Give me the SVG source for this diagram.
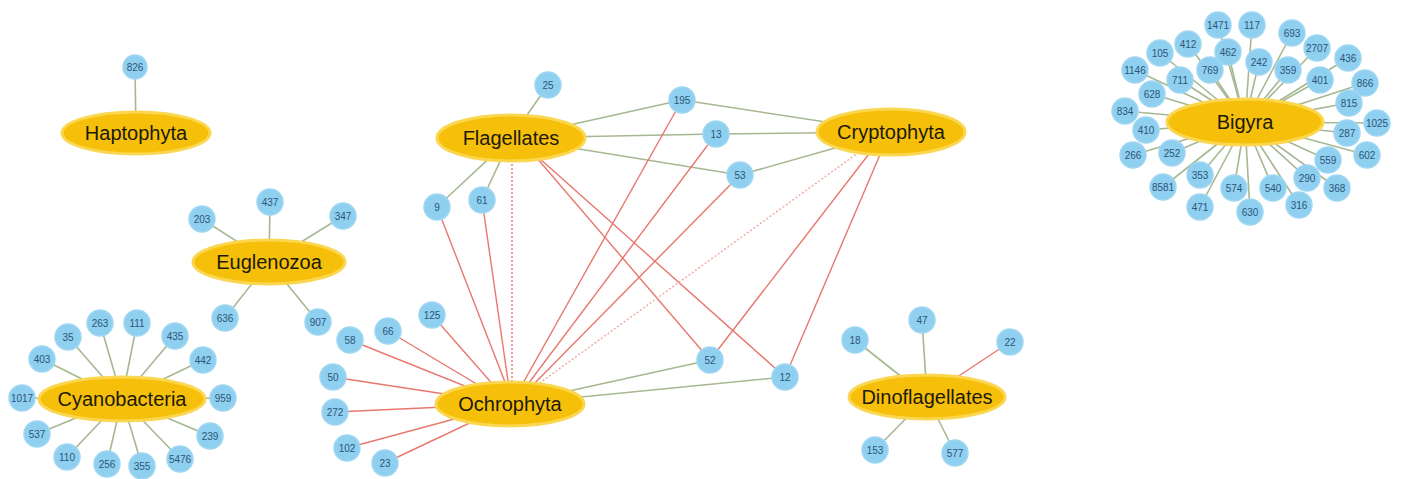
<svg xmlns="http://www.w3.org/2000/svg" width="1403" height="479" viewBox="0 0 1403 479">
<style>
.g{stroke:#a6b892;stroke-width:1.6;fill:none}
.r{stroke:#e8776e;stroke-width:1.4;fill:none}
.d{stroke-dasharray:2,2}
.l{stroke:#f0a8a0}
.n circle{fill:#8fd0f0;stroke:#9fd6f2;stroke-width:1.5}
.n text{font-family:"Liberation Sans",Arial,sans-serif;font-size:10px;fill:#2c5577;text-anchor:middle}
.h ellipse{fill:#f6bf0a;stroke:#fbd651;stroke-width:3}
.h text{font-family:"Liberation Sans",Arial,sans-serif;font-size:20px;fill:#1c1a08;text-anchor:middle}
</style>
<rect width="1403" height="479" fill="#ffffff"/>
<g id="connectors">
<line class="g" x1="136" y1="133" x2="135" y2="67"/>
<line class="g" x1="269" y1="262" x2="202" y2="219"/>
<line class="g" x1="269" y1="262" x2="270" y2="202"/>
<line class="g" x1="269" y1="262" x2="343" y2="216"/>
<line class="g" x1="269" y1="262" x2="225" y2="318"/>
<line class="g" x1="269" y1="262" x2="318" y2="322"/>
<line class="g" x1="122" y1="399" x2="68" y2="337"/>
<line class="g" x1="122" y1="399" x2="100" y2="323"/>
<line class="g" x1="122" y1="399" x2="137" y2="323"/>
<line class="g" x1="122" y1="399" x2="175" y2="336"/>
<line class="g" x1="122" y1="399" x2="203" y2="360"/>
<line class="g" x1="122" y1="399" x2="223" y2="398"/>
<line class="g" x1="122" y1="399" x2="210" y2="436"/>
<line class="g" x1="122" y1="399" x2="180" y2="459"/>
<line class="g" x1="122" y1="399" x2="142" y2="466"/>
<line class="g" x1="122" y1="399" x2="107" y2="464"/>
<line class="g" x1="122" y1="399" x2="67" y2="457"/>
<line class="g" x1="122" y1="399" x2="37" y2="434"/>
<line class="g" x1="122" y1="399" x2="22" y2="398"/>
<line class="g" x1="122" y1="399" x2="42" y2="359"/>
<line class="g" x1="511" y1="138" x2="548" y2="85"/>
<line class="g" x1="511" y1="138" x2="682" y2="100"/>
<line class="g" x1="511" y1="138" x2="716" y2="134"/>
<line class="g" x1="511" y1="138" x2="740" y2="175"/>
<line class="g" x1="511" y1="138" x2="437" y2="207"/>
<line class="g" x1="511" y1="138" x2="482" y2="200"/>
<line class="r" x1="530" y1="150" x2="710" y2="360"/>
<line class="r" x1="530" y1="150" x2="785" y2="377"/>
<line class="r d" x1="512" y1="160" x2="512" y2="383"/>
<line class="g" x1="891" y1="132" x2="682" y2="100"/>
<line class="g" x1="891" y1="132" x2="716" y2="134"/>
<line class="g" x1="891" y1="132" x2="740" y2="175"/>
<line class="r" x1="872" y1="150" x2="710" y2="360"/>
<line class="r" x1="882" y1="150" x2="785" y2="377"/>
<line class="r d l" x1="862" y1="150" x2="530" y2="390"/>
<line class="g" x1="510" y1="404" x2="710" y2="360"/>
<line class="g" x1="510" y1="404" x2="785" y2="377"/>
<line class="r" x1="510" y1="395" x2="437" y2="207"/>
<line class="r" x1="510" y1="395" x2="482" y2="200"/>
<line class="r" x1="518" y1="392" x2="682" y2="100"/>
<line class="r" x1="522" y1="392" x2="716" y2="134"/>
<line class="r" x1="526" y1="392" x2="740" y2="175"/>
<line class="r" x1="510" y1="404" x2="432" y2="315"/>
<line class="r" x1="510" y1="404" x2="388" y2="331"/>
<line class="r" x1="510" y1="404" x2="350" y2="340"/>
<line class="r" x1="510" y1="404" x2="333" y2="377"/>
<line class="r" x1="510" y1="404" x2="335" y2="412"/>
<line class="r" x1="510" y1="404" x2="347" y2="448"/>
<line class="r" x1="510" y1="404" x2="385" y2="463"/>
<line class="g" x1="927" y1="397" x2="855" y2="340"/>
<line class="g" x1="927" y1="397" x2="922" y2="320"/>
<line class="r" x1="927" y1="397" x2="1010" y2="342"/>
<line class="g" x1="927" y1="397" x2="875" y2="450"/>
<line class="g" x1="927" y1="397" x2="955" y2="453"/>
<g class="g">
<line x1="1245" y1="122" x2="1218" y2="25"/>
<line x1="1245" y1="122" x2="1252" y2="25"/>
<line x1="1245" y1="122" x2="1292" y2="33"/>
<line x1="1245" y1="122" x2="1317" y2="48"/>
<line x1="1245" y1="122" x2="1348" y2="58"/>
<line x1="1245" y1="122" x2="1365" y2="83"/>
<line x1="1245" y1="122" x2="1349" y2="103"/>
<line x1="1245" y1="122" x2="1188" y2="44"/>
<line x1="1245" y1="122" x2="1160" y2="53"/>
<line x1="1245" y1="122" x2="1135" y2="70"/>
<line x1="1245" y1="122" x2="1228" y2="52"/>
<line x1="1245" y1="122" x2="1259" y2="62"/>
<line x1="1245" y1="122" x2="1180" y2="80"/>
<line x1="1245" y1="122" x2="1210" y2="70"/>
<line x1="1245" y1="122" x2="1288" y2="70"/>
<line x1="1245" y1="122" x2="1320" y2="80"/>
<line x1="1245" y1="122" x2="1152" y2="94"/>
<line x1="1245" y1="122" x2="1125" y2="111"/>
<line x1="1245" y1="122" x2="1146" y2="130"/>
<line x1="1245" y1="122" x2="1377" y2="123"/>
<line x1="1245" y1="122" x2="1347" y2="133"/>
<line x1="1245" y1="122" x2="1367" y2="155"/>
<line x1="1245" y1="122" x2="1328" y2="160"/>
<line x1="1245" y1="122" x2="1133" y2="155"/>
<line x1="1245" y1="122" x2="1172" y2="153"/>
<line x1="1245" y1="122" x2="1200" y2="175"/>
<line x1="1245" y1="122" x2="1163" y2="187"/>
<line x1="1245" y1="122" x2="1234" y2="188"/>
<line x1="1245" y1="122" x2="1273" y2="188"/>
<line x1="1245" y1="122" x2="1307" y2="178"/>
<line x1="1245" y1="122" x2="1337" y2="188"/>
<line x1="1245" y1="122" x2="1200" y2="207"/>
<line x1="1245" y1="122" x2="1250" y2="212"/>
<line x1="1245" y1="122" x2="1299" y2="205"/>
</g>
</g>
<g id="Haptophyta" class="h"><ellipse cx="136" cy="133" rx="74" ry="21"/><text x="136" y="140">Haptophyta</text></g>
<g id="Euglenozoa" class="h"><ellipse cx="269" cy="262" rx="76" ry="22"/><text x="269" y="269">Euglenozoa</text></g>
<g id="Cyanobacteria" class="h"><ellipse cx="122" cy="399" rx="83" ry="22"/><text x="122" y="406">Cyanobacteria</text></g>
<g id="Flagellates" class="h"><ellipse cx="511" cy="138" rx="74" ry="23"/><text x="511" y="145">Flagellates</text></g>
<g id="Cryptophyta" class="h"><ellipse cx="891" cy="132" rx="74" ry="23"/><text x="891" y="139">Cryptophyta</text></g>
<g id="Ochrophyta" class="h"><ellipse cx="510" cy="404" rx="74" ry="22"/><text x="510" y="411">Ochrophyta</text></g>
<g id="Dinoflagellates" class="h"><ellipse cx="927" cy="397" rx="78" ry="22"/><text x="927" y="404">Dinoflagellates</text></g>
<g id="Bigyra" class="h"><ellipse cx="1245" cy="122" rx="78" ry="23"/><text x="1245" y="129">Bigyra</text></g>
<g id="n826" class="n"><circle cx="135" cy="67" r="12"/><text x="135" y="71">826</text></g>
<g id="n203" class="n"><circle cx="202" cy="219" r="13"/><text x="202" y="223">203</text></g>
<g id="n437" class="n"><circle cx="270" cy="202" r="13"/><text x="270" y="206">437</text></g>
<g id="n347" class="n"><circle cx="343" cy="216" r="13"/><text x="343" y="220">347</text></g>
<g id="n636" class="n"><circle cx="225" cy="318" r="13"/><text x="225" y="322">636</text></g>
<g id="n907" class="n"><circle cx="318" cy="322" r="13"/><text x="318" y="326">907</text></g>
<g id="n35" class="n"><circle cx="68" cy="337" r="13"/><text x="68" y="341">35</text></g>
<g id="n263" class="n"><circle cx="100" cy="323" r="13"/><text x="100" y="327">263</text></g>
<g id="n111" class="n"><circle cx="137" cy="323" r="13"/><text x="137" y="327">111</text></g>
<g id="n435" class="n"><circle cx="175" cy="336" r="13"/><text x="175" y="340">435</text></g>
<g id="n442" class="n"><circle cx="203" cy="360" r="13"/><text x="203" y="364">442</text></g>
<g id="n959" class="n"><circle cx="223" cy="398" r="13"/><text x="223" y="402">959</text></g>
<g id="n239" class="n"><circle cx="210" cy="436" r="13"/><text x="210" y="440">239</text></g>
<g id="n5476" class="n"><circle cx="180" cy="459" r="13"/><text x="180" y="463">5476</text></g>
<g id="n355" class="n"><circle cx="142" cy="466" r="13"/><text x="142" y="470">355</text></g>
<g id="n256" class="n"><circle cx="107" cy="464" r="13"/><text x="107" y="468">256</text></g>
<g id="n110" class="n"><circle cx="67" cy="457" r="13"/><text x="67" y="461">110</text></g>
<g id="n537" class="n"><circle cx="37" cy="434" r="13"/><text x="37" y="438">537</text></g>
<g id="n1017" class="n"><circle cx="22" cy="398" r="13"/><text x="22" y="402">1017</text></g>
<g id="n403" class="n"><circle cx="42" cy="359" r="13"/><text x="42" y="363">403</text></g>
<g id="n25" class="n"><circle cx="548" cy="85" r="13"/><text x="548" y="89">25</text></g>
<g id="n195" class="n"><circle cx="682" cy="100" r="13"/><text x="682" y="104">195</text></g>
<g id="n13" class="n"><circle cx="716" cy="134" r="13"/><text x="716" y="138">13</text></g>
<g id="n53" class="n"><circle cx="740" cy="175" r="13"/><text x="740" y="179">53</text></g>
<g id="n9" class="n"><circle cx="437" cy="207" r="13"/><text x="437" y="211">9</text></g>
<g id="n61" class="n"><circle cx="482" cy="200" r="13"/><text x="482" y="204">61</text></g>
<g id="n52" class="n"><circle cx="710" cy="360" r="13"/><text x="710" y="364">52</text></g>
<g id="n12" class="n"><circle cx="785" cy="377" r="13"/><text x="785" y="381">12</text></g>
<g id="n125" class="n"><circle cx="432" cy="315" r="13"/><text x="432" y="319">125</text></g>
<g id="n66" class="n"><circle cx="388" cy="331" r="13"/><text x="388" y="335">66</text></g>
<g id="n58" class="n"><circle cx="350" cy="340" r="13"/><text x="350" y="344">58</text></g>
<g id="n50" class="n"><circle cx="333" cy="377" r="13"/><text x="333" y="381">50</text></g>
<g id="n272" class="n"><circle cx="335" cy="412" r="13"/><text x="335" y="416">272</text></g>
<g id="n102" class="n"><circle cx="347" cy="448" r="13"/><text x="347" y="452">102</text></g>
<g id="n23" class="n"><circle cx="385" cy="463" r="13"/><text x="385" y="467">23</text></g>
<g id="n18" class="n"><circle cx="855" cy="340" r="13"/><text x="855" y="344">18</text></g>
<g id="n47" class="n"><circle cx="922" cy="320" r="13"/><text x="922" y="324">47</text></g>
<g id="n22" class="n"><circle cx="1010" cy="342" r="13"/><text x="1010" y="346">22</text></g>
<g id="n153" class="n"><circle cx="875" cy="450" r="13"/><text x="875" y="454">153</text></g>
<g id="n577" class="n"><circle cx="955" cy="453" r="13"/><text x="955" y="457">577</text></g>
<g id="n1471" class="n"><circle cx="1218" cy="25" r="13"/><text x="1218" y="29">1471</text></g>
<g id="n117" class="n"><circle cx="1252" cy="25" r="13"/><text x="1252" y="29">117</text></g>
<g id="n693" class="n"><circle cx="1292" cy="33" r="13"/><text x="1292" y="37">693</text></g>
<g id="n2707" class="n"><circle cx="1317" cy="48" r="13"/><text x="1317" y="52">2707</text></g>
<g id="n436" class="n"><circle cx="1348" cy="58" r="13"/><text x="1348" y="62">436</text></g>
<g id="n866" class="n"><circle cx="1365" cy="83" r="13"/><text x="1365" y="87">866</text></g>
<g id="n815" class="n"><circle cx="1349" cy="103" r="13"/><text x="1349" y="107">815</text></g>
<g id="n412" class="n"><circle cx="1188" cy="44" r="13"/><text x="1188" y="48">412</text></g>
<g id="n105" class="n"><circle cx="1160" cy="53" r="13"/><text x="1160" y="57">105</text></g>
<g id="n1146" class="n"><circle cx="1135" cy="70" r="13"/><text x="1135" y="74">1146</text></g>
<g id="n462" class="n"><circle cx="1228" cy="52" r="13"/><text x="1228" y="56">462</text></g>
<g id="n242" class="n"><circle cx="1259" cy="62" r="13"/><text x="1259" y="66">242</text></g>
<g id="n711" class="n"><circle cx="1180" cy="80" r="13"/><text x="1180" y="84">711</text></g>
<g id="n769" class="n"><circle cx="1210" cy="70" r="13"/><text x="1210" y="74">769</text></g>
<g id="n359" class="n"><circle cx="1288" cy="70" r="13"/><text x="1288" y="74">359</text></g>
<g id="n401" class="n"><circle cx="1320" cy="80" r="13"/><text x="1320" y="84">401</text></g>
<g id="n628" class="n"><circle cx="1152" cy="94" r="13"/><text x="1152" y="98">628</text></g>
<g id="n834" class="n"><circle cx="1125" cy="111" r="13"/><text x="1125" y="115">834</text></g>
<g id="n410" class="n"><circle cx="1146" cy="130" r="13"/><text x="1146" y="134">410</text></g>
<g id="n1025" class="n"><circle cx="1377" cy="123" r="13"/><text x="1377" y="127">1025</text></g>
<g id="n287" class="n"><circle cx="1347" cy="133" r="13"/><text x="1347" y="137">287</text></g>
<g id="n602" class="n"><circle cx="1367" cy="155" r="13"/><text x="1367" y="159">602</text></g>
<g id="n559" class="n"><circle cx="1328" cy="160" r="13"/><text x="1328" y="164">559</text></g>
<g id="n266" class="n"><circle cx="1133" cy="155" r="13"/><text x="1133" y="159">266</text></g>
<g id="n252" class="n"><circle cx="1172" cy="153" r="13"/><text x="1172" y="157">252</text></g>
<g id="n353" class="n"><circle cx="1200" cy="175" r="13"/><text x="1200" y="179">353</text></g>
<g id="n8581" class="n"><circle cx="1163" cy="187" r="13"/><text x="1163" y="191">8581</text></g>
<g id="n574" class="n"><circle cx="1234" cy="188" r="13"/><text x="1234" y="192">574</text></g>
<g id="n540" class="n"><circle cx="1273" cy="188" r="13"/><text x="1273" y="192">540</text></g>
<g id="n290" class="n"><circle cx="1307" cy="178" r="13"/><text x="1307" y="182">290</text></g>
<g id="n368" class="n"><circle cx="1337" cy="188" r="13"/><text x="1337" y="192">368</text></g>
<g id="n471" class="n"><circle cx="1200" cy="207" r="13"/><text x="1200" y="211">471</text></g>
<g id="n630" class="n"><circle cx="1250" cy="212" r="13"/><text x="1250" y="216">630</text></g>
<g id="n316" class="n"><circle cx="1299" cy="205" r="13"/><text x="1299" y="209">316</text></g>
</svg>
